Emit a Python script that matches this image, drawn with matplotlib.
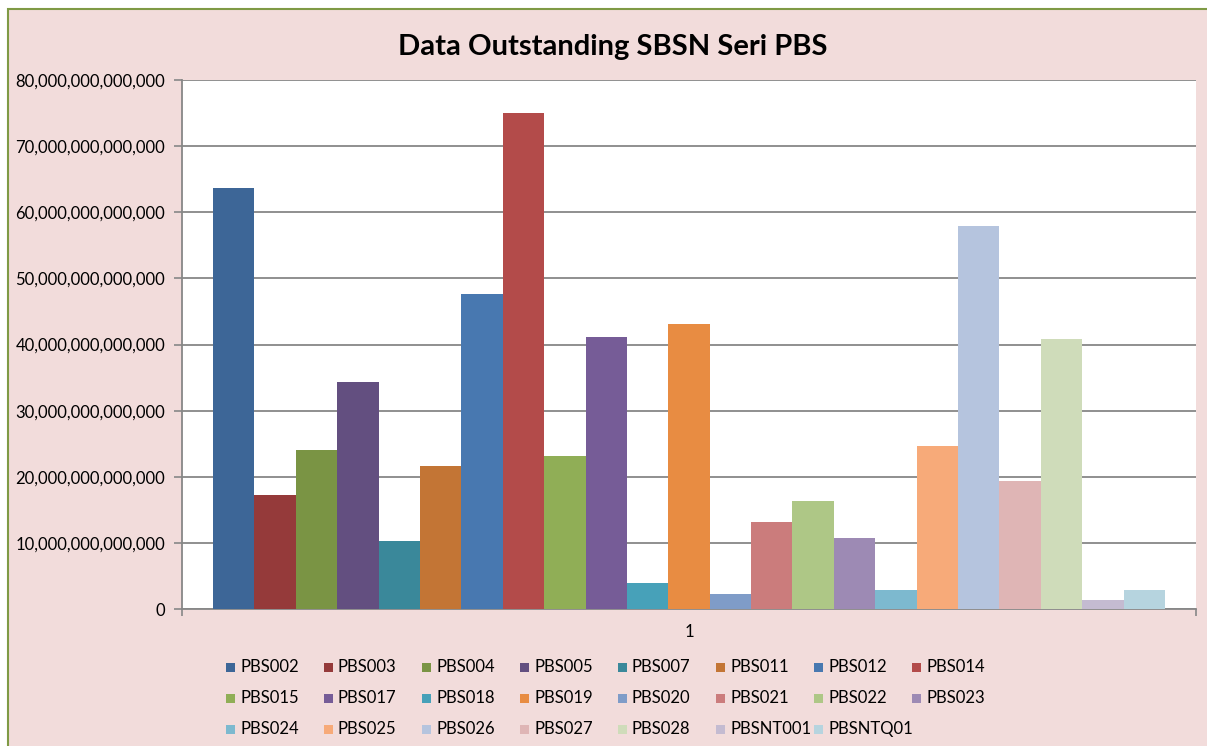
import numpy as np
import matplotlib
matplotlib.use('Agg')
import matplotlib.pyplot as plt
from matplotlib.patches import Rectangle
from matplotlib.ticker import FuncFormatter

# series names and outstanding values (trillion rupiah)
series = ['PBS002', 'PBS003', 'PBS004', 'PBS005', 'PBS007', 'PBS011', 'PBS012', 'PBS014',
          'PBS015', 'PBS017', 'PBS018', 'PBS019', 'PBS020', 'PBS021', 'PBS022', 'PBS023',
          'PBS024', 'PBS025', 'PBS026', 'PBS027', 'PBS028', 'PBSNT001', 'PBSNTQ01']
values_t = [63.7, 17.2, 24.0, 34.3, 10.35, 21.7, 47.6, 75.0,
            23.1, 41.1, 4.0, 43.1, 2.2, 13.1, 16.3, 10.8,
            2.9, 24.7, 57.9, 19.3, 40.8, 1.4, 2.9]
colors = ['#3D6697', '#953A3A', '#7A9444', '#634F80', '#3A889A', '#C37535', '#4878B0', '#B34B4A',
          '#90AE56', '#765C97', '#47A1B9', '#E88C42', '#7F9CC8', '#CB7C7C', '#AEC786', '#9D8AB4',
          '#7DB9CF', '#F7AA79', '#B5C4DE', '#DFB5B5', '#CFDCBA', '#C4BBD1', '#B6D4DF']
category = '1'

plt.rcParams['font.family'] = ['Lato', 'DejaVu Sans']

W, H = 1207, 746
fig = plt.figure(figsize=(W / 100, H / 100), dpi=100)
fig.patch.set_facecolor('white')
# chart area with green border (runs off the right and bottom edges)
bg = Rectangle((8 / W, -0.05), 1.2, (H - 9) / H + 0.05, transform=fig.transFigure,
               facecolor='#F2DCDB', edgecolor='#7F9A45', linewidth=1.5, zorder=-5)
fig.patches.append(bg)

ax = fig.add_axes([182 / W, (H - 609) / H, (1196 - 182) / W, (609 - 80) / H])
ax.set_zorder(2)
ax.set_facecolor('white')

n = len(series)
w = 1.0 / (n + 1.5)  # gap width 150%
for i, (name, v, c) in enumerate(zip(series, values_t, colors)):
    x = (i - (n - 1) / 2) * w
    ax.bar(x, v * 1e12, width=w, color=c, label=name, zorder=3, linewidth=0)

ax.set_xlim(-0.5, 0.5)
ax.set_ylim(0, 80e12)
ax.set_yticks(np.arange(0, 80e12 + 1, 10e12))
ax.yaxis.set_major_formatter(FuncFormatter(lambda v, p: f'{int(round(v)):,}'))
ax.yaxis.grid(True, color='#878787', linewidth=1.3, zorder=1)
ax.set_axisbelow(True)

ax.set_xticks([0])
ax.set_xticklabels([category])
ax.set_xticks([-0.5, 0.5], minor=True)
ax.tick_params(axis='x', which='major', length=0, pad=11, labelsize=12)
ax.tick_params(axis='x', which='minor', length=5, color='#878787', width=1.2)
ax.tick_params(axis='y', length=6, color='#878787', width=1.2, labelsize=12, pad=6)

for side in ['top', 'right']:
    ax.spines[side].set_visible(False)
for side in ['left', 'bottom']:
    ax.spines[side].set_color('#878787')
    ax.spines[side].set_linewidth(1.3)

fig.text(613 / W, 1 - 47 / H, 'Data Outstanding SBSN Seri PBS',
         ha='center', va='center', fontsize=21, fontweight='bold')

# legend laid out row by row, 8 per row, like the reference
ncol = 8
for i, (name, c) in enumerate(zip(series, colors)):
    col, row = i % ncol, i // ncol
    lx = 226 + 98 * col
    ly = 667 + 31 * row
    fig.patches.append(Rectangle((lx / W, 1 - (ly + 4.5) / H), 9 / W, 9 / H,
                                 transform=fig.transFigure, facecolor=c,
                                 linewidth=0, zorder=3))
    fig.text((lx + 14) / W, 1 - ly / H, name, ha='left', va='center', fontsize=12)

fig.savefig('out.png', dpi=100, facecolor=fig.get_facecolor())
